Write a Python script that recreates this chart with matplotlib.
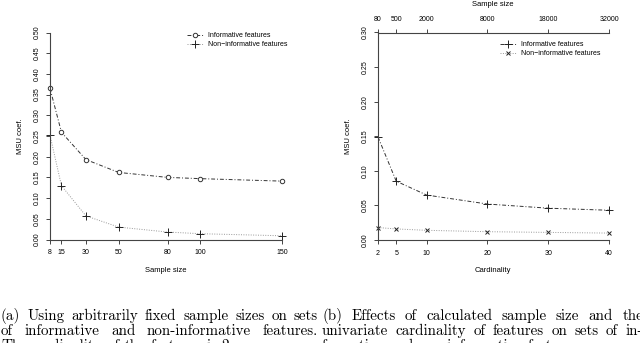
import matplotlib
matplotlib.use('Agg')
import matplotlib.pyplot as plt
import numpy as np

# (a) fixed sample sizes
sizes_a = [8, 15, 30, 50, 80, 100, 150]
inf_a = [0.365, 0.259, 0.193, 0.162, 0.150, 0.147, 0.141]
noninf_a = [0.252, 0.130, 0.057, 0.030, 0.018, 0.014, 0.009]
yticks_a = [0.00, 0.05, 0.10, 0.15, 0.20, 0.25, 0.30, 0.35, 0.40, 0.45, 0.50]

# (b) cardinality vs calculated sample size
card_b = [2, 5, 10, 20, 30, 40]
sizes_b = [80, 500, 2000, 8000, 18000, 32000]
inf_b = [0.149, 0.085, 0.065, 0.052, 0.046, 0.043]
noninf_b = [0.018, 0.016, 0.014, 0.012, 0.011, 0.010]
yticks_b = [0.00, 0.05, 0.10, 0.15, 0.20, 0.25, 0.30]

legend_labels = ['Informative features', 'Non\u2212informative features']

caption_a = ['(a) Using arbitrarily fixed sample sizes on sets',
             'of informative and non-informative features.',
             'The cardinality of the features is 2.']
caption_b = ['(b) Effects of calculated sample size and the',
             'univariate cardinality of features on sets of in-',
             'formative and non-informative features.']

W, H = 640, 343
fig = plt.figure(figsize=(W / 100, H / 100), dpi=100)

sans = 'Liberation Sans'
fs = 5
axcol = '#444444'


def px_axes(x0, y0, x1, y1):
    # pixel box (top-left origin) -> figure fraction axes
    return fig.add_axes([x0 / W, 1 - y1 / H, (x1 - x0) / W, (y1 - y0) / H])


def style(ax):
    for s in ['top', 'right']:
        ax.spines[s].set_visible(False)
    for s in ['left', 'bottom']:
        ax.spines[s].set_linewidth(0.8)
        ax.spines[s].set_color(axcol)
    ax.tick_params(direction='out', length=3, width=0.7, color=axcol,
                   labelsize=fs, pad=4)
    ax.tick_params(axis='y', labelrotation=90)
    for lab in ax.get_xticklabels() + ax.get_yticklabels():
        lab.set_fontfamily(sans)
    for lab in ax.get_yticklabels():
        lab.set_va('center')
    ax.patch.set_alpha(0)


# ---- panel (a)
ax1 = px_axes(50, 32.5, 282, 239.5)
ax1.plot(sizes_a, inf_a, ls=(0, (4, 2, 1, 2)), lw=0.7, color='#333333',
         marker='o', ms=3.2, mfc='white', mec='#333333', mew=0.7, clip_on=False,
         label=legend_labels[0])
ax1.plot(sizes_a, noninf_a, ls=(0, (1, 1.5)), lw=0.7, color='#999999',
         marker='+', ms=5.5, mec='#222222', mew=0.7, clip_on=False,
         label=legend_labels[1])
ax1.set_xlim(8, 150)
ax1.set_ylim(0, 0.5)
ax1.set_xticks(sizes_a)
ax1.set_xticklabels([str(s) for s in sizes_a])
ax1.set_yticks(yticks_a)
ax1.set_yticklabels(['%.2f' % v for v in yticks_a])
style(ax1)
leg1 = ax1.legend(frameon=False, prop={'family': sans, 'size': fs},
                  loc='upper left', bbox_to_anchor=(184 / W, 1 - 28.5 / H),
                  bbox_transform=fig.transFigure, handlelength=2.2,
                  handletextpad=0.8, labelspacing=0.3, borderpad=0)

fig.text(21 / W, 1 - 136 / H, 'MSU coef.', rotation=90, ha='center',
         va='center', fontsize=fs + 0.5, family=sans)
fig.text(166 / W, 1 - 270 / H, 'Sample size', ha='center', va='center',
         fontsize=fs + 0.5, family=sans)

# ---- panel (b)
ax2 = px_axes(378, 32.5, 609, 240)
ax2.plot(card_b, inf_b, ls=(0, (4, 2, 1, 2)), lw=0.7, color='#333333',
         marker='+', ms=5.5, mec='#222222', mew=0.7, clip_on=False,
         label=legend_labels[0])
ax2.plot(card_b, noninf_b, ls=(0, (1, 1.5)), lw=0.7, color='#999999',
         marker='x', ms=3.5, mec='#222222', mew=0.7, clip_on=False,
         label=legend_labels[1])
ax2.set_xlim(2, 40)
ax2.set_ylim(0, 0.3)
ax2.set_xticks(card_b)
ax2.set_xticklabels([str(c) for c in card_b])
ax2.set_yticks(yticks_b)
ax2.set_yticklabels(['%.2f' % v for v in yticks_b])
style(ax2)

top = ax2.twiny()
top.set_xlim(2, 40)
top.set_xticks(card_b)
top.set_xticklabels([str(s) for s in sizes_b])
for s in ['bottom', 'left', 'right']:
    top.spines[s].set_visible(False)
top.spines['top'].set_linewidth(0.8)
top.spines['top'].set_color(axcol)
top.tick_params(direction='out', length=3, width=0.7, color=axcol,
                labelsize=fs, pad=4)
for lab in top.get_xticklabels():
    lab.set_fontfamily(sans)

leg2 = ax2.legend(frameon=False, prop={'family': sans, 'size': fs},
                  loc='upper left', bbox_to_anchor=(497 / W, 1 - 37.5 / H),
                  bbox_transform=fig.transFigure, handlelength=2.2,
                  handletextpad=0.8, labelspacing=0.3, borderpad=0)

fig.text(349 / W, 1 - 136 / H, 'MSU coef.', rotation=90, ha='center',
         va='center', fontsize=fs + 0.5, family=sans)
fig.text(493 / W, 1 - 270 / H, 'Cardinality', ha='center', va='center',
         fontsize=fs + 0.5, family=sans)
fig.text(493 / W, 1 - 4 / H, 'Sample size', ha='center', va='center',
         fontsize=fs + 0.5, family=sans)

# ---- captions (justified lines, serif)
renderer = fig.canvas.get_renderer()

# size the caption font so the first line fills its column naturally
probe = fig.text(0, 0, caption_a[0], fontsize=10, family='cmr10')
cap_fs = 10 * 306 / probe.get_window_extent(renderer).width
probe.remove()


def caption_line(x0, ybase, text, width=None):
    words = text.split(' ')
    ts = [fig.text(0, 1 - ybase / H, w, fontsize=cap_fs, family='cmr10',
                   va='baseline', ha='left') for w in words]
    widths = [t.get_window_extent(renderer).width for t in ts]
    if width is None or len(words) < 2:
        sp = cap_fs * 100 / 72 * 0.333
    else:
        sp = (width - sum(widths)) / (len(words) - 1)
    x = x0
    for t, w in zip(ts, widths):
        t.set_x(x / W)
        x += w + sp


baselines = [320, 335, 350]
for i, line in enumerate(caption_a):
    caption_line(1, baselines[i], line, 317 if i < 2 else None)
for i, line in enumerate(caption_b):
    caption_line(322, baselines[i], line, 321 if i < 2 else None)

fig.savefig('out.png', dpi=100)
